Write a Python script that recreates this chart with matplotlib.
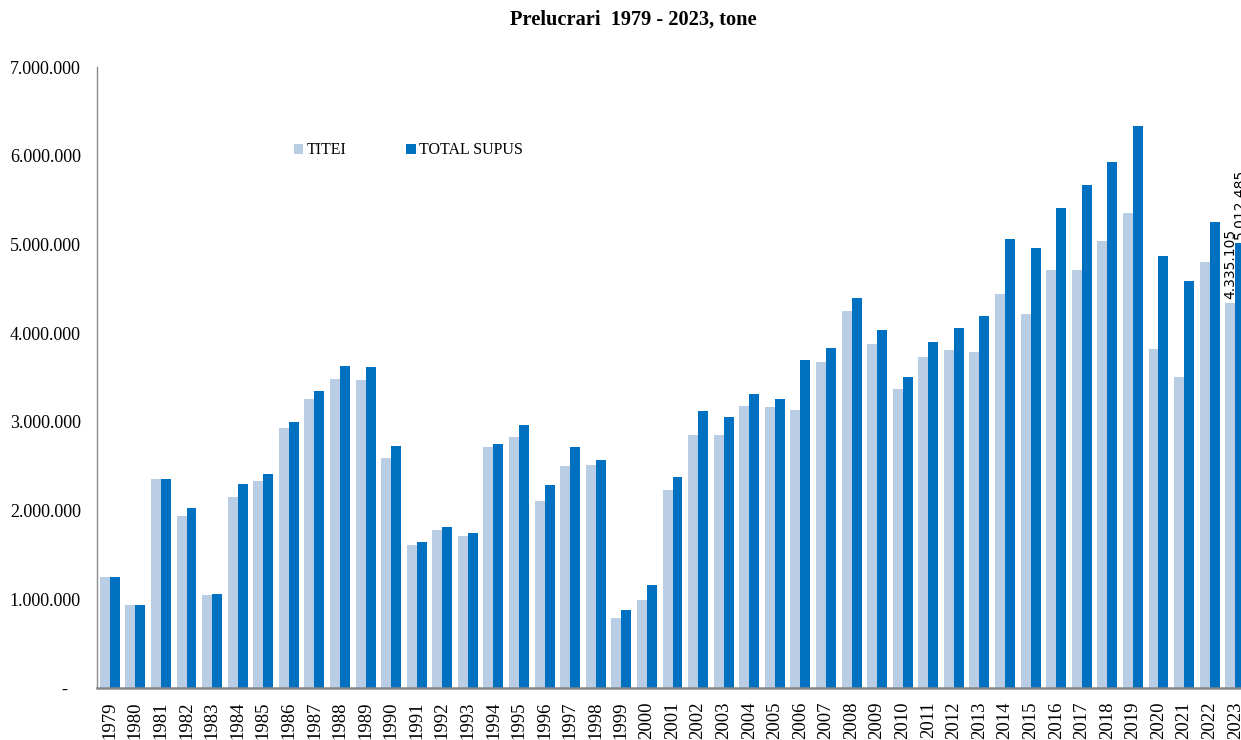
import numpy as np
import matplotlib
matplotlib.use("Agg")
from matplotlib import pyplot as plt
from matplotlib.ticker import FuncFormatter, MultipleLocator

### data ###
years = list(range(1979, 2024))
titei = [1256000, 933000, 2355000, 1941000, 1046000, 2152000, 2329000, 2931000, 3254000,
         3488000, 3476000, 2596000, 1614000, 1783000, 1716000, 2720000, 2829000, 2107000,
         2506000, 2517000, 790000, 993000, 2227000, 2852000, 2852000, 3175000, 3164000,
         3130000, 3676000, 4244000, 3879000, 3375000, 3732000, 3811000, 3789000, 4436000,
         4213000, 4714000, 4714000, 5034000, 5357000, 3823000, 3510000, 4800000, 4335105]
total_supus = [1256000, 933000, 2355000, 2028000, 1057000, 2295000, 2415000, 2995000, 3352000,
               3634000, 3623000, 2728000, 1648000, 1814000, 1749000, 2750000, 2965000, 2283000,
               2716000, 2573000, 880000, 1159000, 2374000, 3119000, 3051000, 3311000, 3262000,
               3699000, 3834000, 4398000, 4033000, 3507000, 3902000, 4056000, 4191000, 5060000,
               4963000, 5414000, 5669000, 5929000, 6340000, 4868000, 4586000, 5256000, 5012485]

c_light = "#B9CDE5"
c_dark = "#0070C0"
serif = "Liberation Serif"


def fmt_ro(v, pos=None):
    if v == 0:
        return "-   "
    return f"{int(round(v)):,}".replace(",", ".")


fig = plt.figure(figsize=(12.41, 7.40), dpi=100)
# axes runs a bit past the right edge, like the source image
ax = fig.add_axes([97 / 1241, 52 / 740, 1151 / 1241, 621 / 740])

x = np.arange(len(years))
w = 0.39
ax.bar(x - w / 2, titei, w, color=c_light, label="TITEI")
ax.bar(x + w / 2, total_supus, w, color=c_dark, label="TOTAL SUPUS")

# value labels on the last year only
ax.text(x[-1] - w / 2, titei[-1] + 45000, fmt_ro(titei[-1]), rotation=90,
        ha="center", va="bottom", fontsize=10, family="DejaVu Sans")
ax.text(x[-1] + w / 2, total_supus[-1] + 45000, fmt_ro(total_supus[-1]), rotation=90,
        ha="center", va="bottom", fontsize=10, family="DejaVu Sans")

ax.set_xlim(-0.5, len(years) - 0.5)
ax.set_ylim(0, 7000000)
ax.yaxis.set_major_locator(MultipleLocator(1000000))
ax.yaxis.set_major_formatter(FuncFormatter(fmt_ro))
ax.set_xticks(x)
ax.set_xticklabels([str(y) for y in years], rotation=90, family=serif, fontsize=13.5)
for t in ax.get_yticklabels():
    t.set_family(serif)
    t.set_fontsize(13)
ax.tick_params(axis="y", length=0, pad=11.5)
ax.tick_params(axis="x", length=0, pad=9.5)

for s in ["top", "right"]:
    ax.spines[s].set_visible(False)
ax.spines["left"].set_color("#8c8c8c")
ax.spines["left"].set_linewidth(1.0)
ax.spines["bottom"].set_color("#868686")
ax.spines["bottom"].set_linewidth(1.8)

ax.legend(loc="center left", bbox_to_anchor=(0.171, 0.866), ncol=2, frameon=False,
          prop={"family": serif, "size": 11.5}, handlelength=0.6, handleheight=0.6,
          handletextpad=0.2, columnspacing=3.75, borderpad=0, borderaxespad=0)

fig.text(633 / 1241, 1 - 20 / 740, "Prelucrari  1979 - 2023, tone", ha="center", va="center",
         family=serif, fontweight="bold", fontsize=14.7)

fig.savefig("out.png", dpi=100)
